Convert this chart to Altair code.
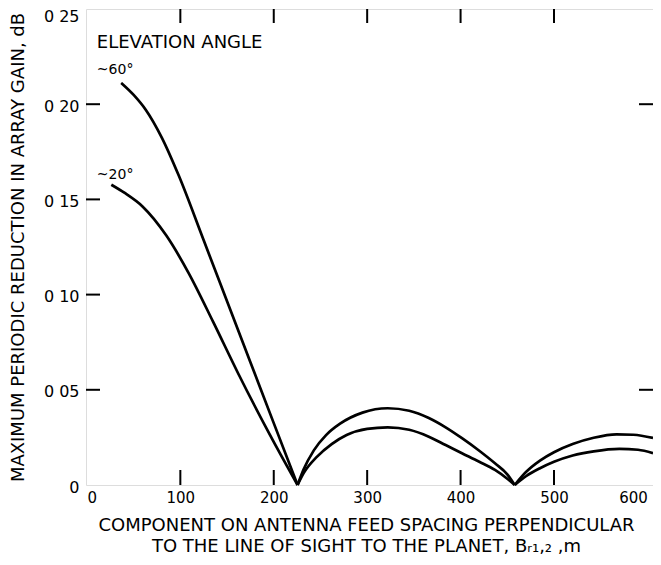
import altair as alt
import pandas as pd

# ~60 deg elevation curve, three lobes
x60 = [36.7, 50.0, 63.1, 80.0, 98.3, 125.0, 150.0, 175.0, 200.0, 225.5,
       225.5, 232.0, 242.9, 256.0, 271.0, 295.0, 322.0, 345.0, 366.0, 384.0, 401.5, 420.0, 436.8, 450.0, 458.0,
       458.0, 470.0, 485.0, 500.0, 520.0, 542.5, 567.0, 585.0, 606.0]
y60 = [0.2112, 0.2049, 0.1970, 0.1826, 0.1625, 0.1285, 0.0965, 0.0645, 0.0325, 0.0,
       0.0, 0.0082, 0.0182, 0.0262, 0.0322, 0.0380, 0.0403, 0.0390, 0.0352, 0.0303, 0.0246, 0.0180, 0.0114, 0.0056, 0.0,
       0.0, 0.0068, 0.0128, 0.0172, 0.0215, 0.0248, 0.0266, 0.0264, 0.0247]
s60 = [1] * 10 + [2] * 15 + [3] * 9

# ~20 deg elevation curve, three lobes
x20 = [26.1, 40.0, 59.5, 85.0, 108.9, 135.0, 161.8, 198.8, 225.5,
       225.5, 232.0, 246.4, 262.0, 278.0, 300.0, 322.0, 345.0, 366.0, 384.0, 401.5, 420.0, 436.8, 450.0, 458.0,
       458.0, 470.0, 485.0, 500.0, 520.0, 542.5, 570.0, 590.0, 606.0]
y20 = [0.1577, 0.1535, 0.1463, 0.1310, 0.1113, 0.0858, 0.0587, 0.0237, 0.0,
       0.0, 0.0062, 0.0149, 0.0215, 0.0263, 0.0295, 0.0303, 0.0290, 0.0254, 0.0210, 0.0167, 0.0122, 0.0079, 0.0033, 0.0,
       0.0, 0.0046, 0.0088, 0.0122, 0.0155, 0.0177, 0.0190, 0.0185, 0.0167]
s20 = [1] * 9 + [2] * 15 + [3] * 9

x_ticks = [0, 100, 200, 300, 400, 500, 600]
y_ticks = [0, 0.05, 0.10, 0.15, 0.20, 0.25]
left_inner = [0.05, 0.10, 0.15, 0.20]
right_inner = [0.05, 0.20]
bottom_inner = [100, 200, 300, 400, 500]
top_inner = [100, 200, 300, 400, 500]

labels_text = ["ELEVATION ANGLE", "~60°", "~20°"]
labels_x = [10.6, 10.6, 10.6]
labels_y = [0.2324, 0.2180, 0.1628]
labels_size = [18, 14, 14]

FONT = "DejaVu Sans"
W, H = 567, 476

rows = []
for xs_, ys_, ss_, name in [(x60, y60, s60, "60"), (x20, y20, s20, "20")]:
    for a, b, s in zip(xs_, ys_, ss_):
        rows.append({"x": a, "y": b, "key": f"{name}-{s}"})
df = pd.DataFrame(rows)

xs = alt.Scale(domain=[-1, 606], nice=False, zero=False)
ys = alt.Scale(domain=[0, 0.25], nice=False)

lines = alt.Chart(df).mark_line(color="black", strokeWidth=2.7, interpolate="monotone").encode(
    x=alt.X("x:Q", scale=xs,
            axis=alt.Axis(values=x_ticks, ticks=False, domain=False, grid=False,
                          labelFontSize=15, labelFont=FONT, labelColor="black",
                          labelPadding=5, labelFlush=8, labelOverlap=False,
                          title=["COMPONENT ON ANTENNA FEED SPACING PERPENDICULAR",
                                 "TO THE LINE OF SIGHT TO THE PLANET, Bᵣ₁,₂ ,m"],
                          titleFont=FONT, titleFontSize=18, titleFontWeight="normal",
                          titleColor="black", titleLineHeight=21,
                          titleX=280, titleY=45, titleAlign="center",
                          titleBaseline="alphabetic", titleAnchor="start")),
    y=alt.Y("y:Q", scale=ys,
            axis=alt.Axis(values=y_ticks, ticks=False, domain=False, grid=False,
                          labelExpr="datum.value == 0 ? '0' : replace(format(datum.value, '.2f'), '.', ' ')",
                          labelFontSize=16, labelFont=FONT, labelColor="black",
                          labelPadding=7, labelFlush=False, labelOverlap=False,
                          labelOffset={"condition": {"test": "datum.value > 0.24", "value": 7}, "value": 2},
                          title="MAXIMUM PERIODIC REDUCTION IN ARRAY GAIN, dB",
                          titleFont=FONT, titleFontSize=18, titleFontWeight="normal",
                          titleColor="black", titleX=-68, titleY=238, titleAngle=270,
                          titleAlign="center", titleBaseline="middle", titleAnchor="start")),
    detail="key:N",
)

def vrule(vals):
    return pd.DataFrame({"v": vals})

left = alt.Chart(vrule(left_inner)).mark_rule(color="black", strokeWidth=2).encode(
    y=alt.Y("v:Q", scale=ys), x=alt.value(0), x2=alt.value(14))
right = alt.Chart(vrule(right_inner)).mark_rule(color="black", strokeWidth=2).encode(
    y=alt.Y("v:Q", scale=ys), x=alt.value(W - 14), x2=alt.value(W))
bottom = alt.Chart(vrule(bottom_inner)).mark_rule(color="black", strokeWidth=2).encode(
    x=alt.X("v:Q", scale=xs), y=alt.value(H), y2=alt.value(H - 15))
top = alt.Chart(vrule(top_inner)).mark_rule(color="black", strokeWidth=2).encode(
    x=alt.X("v:Q", scale=xs), y=alt.value(0), y2=alt.value(14))

ann = alt.Chart(pd.DataFrame({"t": labels_text, "x": labels_x, "y": labels_y, "s": labels_size})).mark_text(
    align="left", baseline="middle", font=FONT, color="black").encode(
    x=alt.X("x:Q", scale=xs), y=alt.Y("y:Q", scale=ys), text="t:N",
    size=alt.Size("s:Q", scale=None, legend=None))

chart = alt.layer(lines, left, right, bottom, top, ann).properties(
    width=W, height=H,
    autosize=alt.AutoSizeParams(type="none"),
    padding={"left": 78, "top": 1, "right": 0, "bottom": 70},
).configure_view(stroke="black", strokeWidth=2).configure(background="white")

chart.save("out.html", embed_options={"renderer": "svg", "actions": False})
